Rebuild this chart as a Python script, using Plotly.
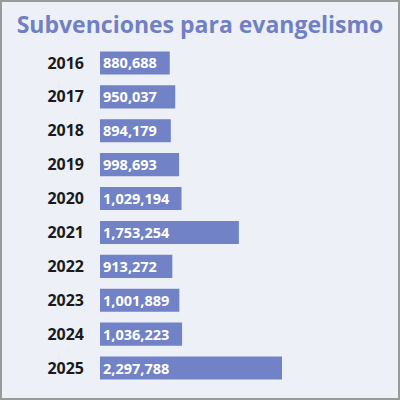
import plotly.graph_objects as go

years = ["2016", "2017", "2018", "2019", "2020", "2021", "2022", "2023", "2024", "2025"]
values = [880688, 950037, 894179, 998693, 1029194, 1753254, 913272, 1001889, 1036223, 2297788]
labels = [f"{v:,}" for v in values]

W, H = 400, 400
ML, MR, MT, MB = 100, 18, 46, 15
plot_w = W - ML - MR
plot_h = H - MT - MB
xmax = max(values) * plot_w / 182.0

bar_color = "#7282c6"
bg = "#eef0f8"

fig = go.Figure(go.Bar(
    x=values, y=years, orientation="h",
    marker=dict(color=bar_color, line=dict(width=0)),
    width=0.68,
    text=labels, textposition="inside", insidetextanchor="start",
    constraintext="none",
    textfont=dict(color="white", size=14.5, family="Open Sans", weight="bold"),
    hoverinfo="skip",
))

fig.update_layout(
    width=W, height=H,
    margin=dict(l=ML, r=MR, t=MT, b=MB, autoexpand=False),
    paper_bgcolor=bg, plot_bgcolor=bg,
    showlegend=False,
    title=dict(text="Subvenciones para evangelismo", x=0.5, xanchor="center",
               xref="container", y=1 - 25 / H, yref="container", yanchor="middle",
               font=dict(family="Open Sans", size=23, color="#7080c4", weight="bold")),
    xaxis=dict(range=[0, xmax], visible=False, fixedrange=True, automargin=False),
    yaxis=dict(autorange="reversed", showgrid=False, zeroline=False, showline=False,
               ticks="", ticklabelstandoff=15, automargin=False,
               tickfont=dict(family="Open Sans", size=16, color="#1a1a1a", weight="bold")),
    shapes=[dict(type="rect", xref="paper", yref="paper",
                 x0=-(ML - 1) / plot_w, x1=1 + (MR - 1) / plot_w,
                 y0=-(MB - 1) / plot_h, y1=1 + (MT - 1) / plot_h,
                 line=dict(color="#9a9a9a", width=2), fillcolor="rgba(0,0,0,0)", layer="above")],
)

fig.write_html("out.html", config={"displayModeBar": False},
               post_script="document.body.style.margin='0';")
